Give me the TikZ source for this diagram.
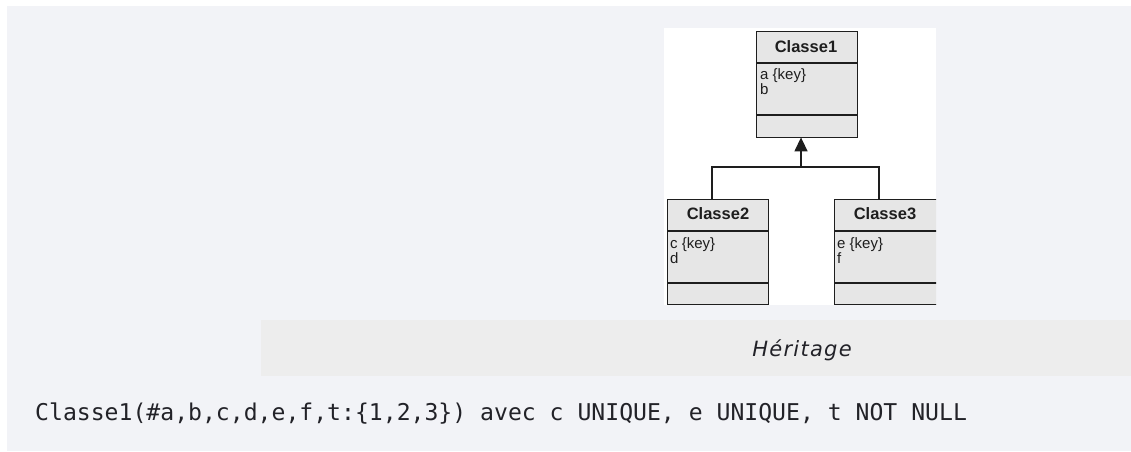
\documentclass[tikz,border=0pt]{standalone}
\usepackage{fontspec}
\usetikzlibrary{arrows.meta}
\newfontfamily\umlfont{Liberation Sans}
\newfontfamily\capfont[LetterSpace=6]{DejaVu Sans}
\newfontfamily\codefont{DejaVu Sans Mono}
\definecolor{panel}{RGB}{242,243,247}
\definecolor{band}{RGB}{237,237,237}
\definecolor{boxfill}{RGB}{230,230,230}
\definecolor{boxline}{RGB}{30,30,30}
\definecolor{txt}{RGB}{34,34,40}
\tikzset{
  classbox/.style={draw=boxline, fill=boxfill, line width=1.4pt, minimum width=101pt, inner sep=0pt},
  sep/.style={draw=boxline, line width=1.4pt},
  title/.style={font=\umlfont\bfseries\fontsize{16.5}{16.5}\selectfont, text=boxline, anchor=base, inner sep=0pt},
  attr/.style={font=\umlfont\fontsize{15}{15}\selectfont, text=boxline, anchor=base west, inner sep=0pt},
  conn/.style={draw=boxline, line width=1.4pt},
  inh/.style={conn, -{Triangle[length=14pt,width=13pt]}},
}
\begin{document}
\begin{tikzpicture}[x=1pt,y=-1pt]
\useasboundingbox (0,0) rectangle (1131,451);
\fill[white] (0,0) rectangle (1131,451);
\fill[panel] (7,6) rectangle (1131,451);
\fill[white] (664,28) rectangle (936,305);
\fill[band] (261,320) rectangle (1131,376);

\begin{scope}
\clip (664,28) rectangle (936,306);
% Classe1
\node[classbox, minimum height=106pt, anchor=north west] (c1) at (756,31) {};
\draw[sep] (756,63) -- (857,63);
\draw[sep] (756,115) -- (857,115);
\node[title] (t1) at (806,52) {Classe1};
\node[attr] (a1) at (760,79) {a \{key\}};
\node[attr] (b1) at (760,94) {b};
% Classe2
\node[classbox, minimum height=105pt, anchor=north west] (c2) at (667,199) {};
\draw[sep] (667,231) -- (769,231);
\draw[sep] (667,283) -- (769,283);
\node[title] (t2) at (718,219) {Classe2};
\node[attr] (a2) at (670,248) {c \{key\}};
\node[attr] (b2) at (670,263) {d};
% Classe3 (cut off by the image edge)
\node[classbox, minimum width=120pt, minimum height=105pt, anchor=north west] (c3) at (834,199) {};
\draw[sep] (834,231) -- (950,231);
\draw[sep] (834,283) -- (950,283);
\node[title] (t3) at (885,219) {Classe3};
\node[attr] (a3) at (837,248) {e \{key\}};
\node[attr] (b3) at (837,263) {f};
\end{scope}

% connectors
\coordinate (j) at (801,167);
\coordinate (l2) at (712,199);
\coordinate (l3) at (879,199);
\draw[conn] (l2) |- (j) -| (l3);
\draw[inh] (j) -- ([yshift=1pt]j |- c1.south);

\node[font=\capfont\itshape\fontsize{21}{21}\selectfont, text=txt, inner sep=0pt, anchor=base] (cap) at (802,356) {Héritage};
\node[font=\codefont\fontsize{23.1}{23.1}\selectfont, text=txt, anchor=base west, inner sep=0pt] (code) at (35,420) {Classe1(\#a,b,c,d,e,f,t:\{1,2,3\}) avec c UNIQUE, e UNIQUE, t NOT NULL};
\end{tikzpicture}
\end{document}
